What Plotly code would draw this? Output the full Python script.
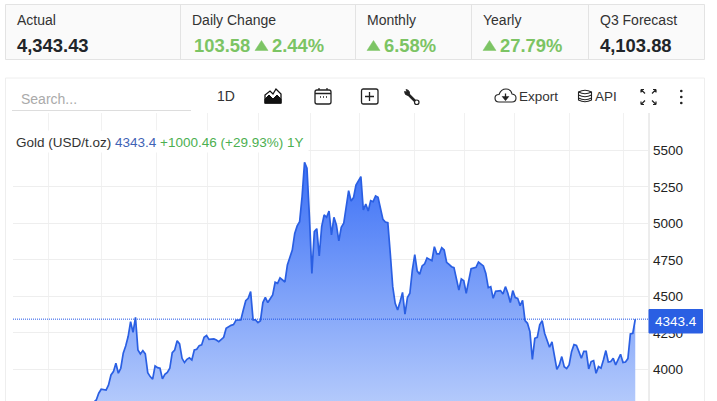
import plotly.graph_objects as go

# trading session number and gold close
sessions = [0, 7, 14, 20, 27, 31,
            34, 35, 36, 38, 39, 40, 41, 42, 43, 44, 45, 46, 47, 48, 49, 50,
            51, 52, 53, 54, 55, 56, 57, 58, 59, 60, 61, 62, 63, 64, 65, 66,
            67, 68, 69, 70, 71, 72, 73, 74, 75, 76, 77, 78, 79, 80, 82, 83,
            84, 86, 87, 89, 90, 91, 93, 94, 95, 96, 97, 98, 99, 100, 101, 102,
            103, 104, 105, 106, 107, 108, 109, 110, 111, 112, 114, 115, 116, 117, 118, 119,
            120, 121, 122, 123, 124, 125, 126, 127, 128, 129, 130, 131, 132, 133, 134, 135,
            136, 137, 138, 139, 140, 142, 143, 144, 145, 146, 147, 148, 149, 151, 152, 153,
            154, 155, 156, 157, 158, 159, 160, 161, 162, 163, 164, 165, 166, 167, 168, 169,
            170, 171, 172, 173, 174, 175, 176, 177, 178, 179, 180, 181, 182, 183, 184, 185,
            186, 187, 189, 190, 192, 193, 194, 195, 196, 197, 199, 200, 201, 202, 203, 204,
            205, 206, 207, 208, 209, 210, 211, 212, 213, 214, 215, 216, 217, 218, 219, 220,
            221, 222, 223, 224, 225, 226, 227, 228, 229, 230, 231, 232, 233, 234, 235, 236,
            237, 238, 239, 240, 241, 242, 243, 244, 245, 246, 248, 249, 250, 251, 252, 253, 254]
closes = [3343, 3390, 3476, 3640, 3680, 3740,
          3790, 3836, 3863, 3858, 3893, 3961, 3984, 4041, 3973, 4007, 4110, 4160, 4224, 4326, 4253, 4356,
          4132, 4105, 4128, 4105, 3977, 3950, 3932, 4023, 4011, 4007, 3934, 3966, 3979, 4007, 4114, 4132,
          4196, 4174, 4075, 4046, 4068, 4078, 4064, 4132, 4137, 4162, 4167, 4219, 4231, 4205, 4208, 4201,
          4189, 4219, 4281, 4301, 4306, 4336, 4338, 4406, 4470, 4486, 4532, 4338, 4338, 4320, 4333, 4457,
          4493, 4457, 4479, 4509, 4596, 4589, 4626, 4612, 4598, 4715, 4817, 4931, 4982, 5011, 5183, 5418,
          5377, 5046, 4657, 4943, 4963, 4776, 4977, 5057, 5041, 5084, 4920, 5041, 4989, 4879, 4973, 5000,
          5126, 5224, 5153, 5176, 5262, 5320, 5091, 5132, 5084, 5155, 5148, 5187, 5178, 5027, 5009, 5004,
          4794, 4566, 4452, 4406, 4463, 4527, 4377, 4491, 4521, 4680, 4785, 4673, 4651, 4708, 4721, 4763,
          4753, 4744, 4840, 4790, 4790, 4833, 4817, 4733, 4719, 4703, 4696, 4612, 4543, 4619, 4607, 4521,
          4600, 4689, 4699, 4735, 4708, 4657, 4559, 4566, 4486, 4534, 4539, 4516, 4566, 4521, 4457, 4539,
          4491, 4486, 4436, 4473, 4333, 4315, 4258, 4068, 4212, 4219, 4304, 4333, 4247, 4201, 4151, 4187,
          4098, 4000, 4030, 4087, 4018, 4005, 4030, 4121, 4169, 4164, 4121, 4075, 4123, 4123, 4002, 4053,
          4059, 3973, 4018, 4007, 4064, 4128, 4050, 4053, 4075, 4030, 4103, 4046, 4050, 4073, 4242, 4247, 4343.4]
month_starts = [14.3, 36.3, 58.4, 79.2, 100.4, 121.6, 141.6, 163.7, 184.1, 204.9, 227, 249]
price_ticks = [3750, 4000, 4250, 4500, 4750, 5000, 5250, 5500]
last_price = 4343.4

kpi_labels = ["Actual", "Daily Change", "Monthly", "Yearly", "Q3 Forecast"]
kpi_x = [17, 192, 367, 483, 600]
kpi_dividers = [180.5, 355.5, 471.5, 588.5]
dark_values = ["4,343.43", "4,103.88"]
dark_x = [17, 600]
green_values = ["103.58", "2.44%", "6.58%", "27.79%"]
green_x = [194, 272, 384, 500]
triangle_x = [255, 367, 483]

W, H = 717, 430
FONT = "Liberation Sans"
BLUE = "#2a5fe3"
GREEN = "#7cc464"
GRID = "#eeeeee"

fig = go.Figure()

fig.add_trace(go.Scatter(
    x=sessions, y=closes, mode="lines", fill="tozeroy",
    line=dict(color=BLUE, width=1.7),
    fillgradient=dict(type="vertical", start=5418, stop=3600,
                      colorscale=[[0, "#3b70f6"], [1, "#c0d3fc"]]),
    hoverinfo="skip", showlegend=False))
# blank trace so the pixel axes used for the page furniture exist
fig.add_trace(go.Scatter(x=[None], y=[None], xaxis="x2", yaxis="y2",
                         hoverinfo="skip", showlegend=False))


def note(x, y, text, size=14, color="#333333", anchor="left", **kw):
    # annotations carry 2px of padding, take it back so x is where the ink starts
    fig.add_annotation(xref="x2", yref="y2", x=x - 2 if anchor == "left" else x, y=y, text=text,
                       showarrow=False, xanchor=anchor, yanchor="middle",
                       font=dict(family=FONT, size=size, color=color), **kw)


def box(x0, y0, x1, y1, line="#e3e3e3", fill=None, width=1):
    fig.add_shape(type="rect", xref="x2", yref="y2", x0=x0, y0=y0, x1=x1, y1=y1,
                  line=dict(color=line, width=width), fillcolor=fill, layer="above")


def icon(path, line="#222222", fill=None, width=1.3):
    fig.add_shape(type="path", xref="x2", yref="y2", path=path, layer="above",
                  line=dict(color=line, width=width), fillcolor=fill)


# KPI strip
box(5.5, 4.5, 704.5, 59.5, fill="#fafafa")
for d in kpi_dividers:
    box(d, 4.5, d, 59.5)
for label, x in zip(kpi_labels, kpi_x):
    note(x, 20, label, size=14, color="#333333")
for value, x in zip(dark_values, dark_x):
    note(x, 45, "<b>%s</b>" % value, size=18.4, color="#212529")
for value, x in zip(green_values, green_x):
    note(x, 45, "<b>%s</b>" % value, size=18.4, color=GREEN)
for x in triangle_x:
    icon("M%s,50.5 L%s,40.5 L%s,50.5 Z" % (x, x + 6.5, x + 13), line=GREEN, fill=GREEN, width=0.5)

# chart card and toolbar
box(5.5, 78, 704.5, 440, line="#eeeeee")
box(12, 110.5, 191, 110.5, line="#dddddd")
note(21, 99, "Search...", size=14, color="#aaaaaa")
note(217, 96, "1D", size=14)
note(519, 96, "Export", size=13.5)
note(595, 96, "API", size=13.5)

# mountain
icon("M265,103 L265,95 L270,91 L273,94 L276,89 L281,94 L281,103 Z", line="#111111", fill="#ffffff")
icon("M265,103 L265,99 L269,95 L273,99 L277,95 L281,99 L281,103 Z", line="#111111", fill="#111111", width=1)
# calendar
icon("M317,90 L329,90 Q331,90 331,92 L331,102 Q331,104 329,104 L317,104 Q315,104 315,102 L315,92 Q315,90 317,90 Z")
icon("M315,93.5 L331,93.5 M319,88 L319,90 M327,88 L327,90 M320,97 L321,97 M323,97 L324,97 M326,97 L327,97")
# plus box
icon("M363,89 L376,89 Q378,89 378,91 L378,102 Q378,104 376,104 L363,104 Q361.5,104 361.5,102 L361.5,91 Q361.5,89 363,89 Z")
icon("M365,96.5 L374,96.5 M369.5,92 L369.5,101")
# wrench
icon("M407.5,93.5 L415,101", width=2.6)
icon("M404.5,91.5 Q404.5,95.5 408.5,95.5 Q410,94 409.5,92 Q408.5,89.5 406,89.5 L407,92 Z", fill="#222222", width=0.8)
fig.add_shape(type="circle", xref="x2", yref="y2", x0=414.5, y0=100, x1=419, y1=104.5,
              line=dict(color="#222222", width=1.2), fillcolor="#ffffff", layer="above")
# cloud
icon("M499,102 Q495,102 495,98 Q495,94.5 499,94.5 Q501,89 506,89 Q511,89 512,94 Q516,94.5 516,98 Q516,102 512,102 Z", fill="#ffffff", width=1.1)
icon("M505.5,93.5 L505.5,97 M503,97 L508,97 L505.5,100 Z", fill="#222222", width=1.3)
# database
icon("M578.5,92 Q585,88.5 591.5,92 L591.5,100 Q585,103.5 578.5,100 Z", fill="#ffffff", width=1.1)
icon("M578.5,92 Q585,95.5 591.5,92 M578.5,95 Q585,98.5 591.5,95 M578.5,98 Q585,101.5 591.5,98", width=1.1)
# expand arrows
icon("M641,89.5 L644,89.5 M641,89.5 L641,92.5 M641,89.5 L645,93.5", width=1.2)
icon("M656,89.5 L653,89.5 M656,89.5 L656,92.5 M656,89.5 L652,93.5", width=1.2)
icon("M641,104.5 L644,104.5 M641,104.5 L641,101.5 M641,104.5 L645,100.5", width=1.2)
icon("M656,104.5 L653,104.5 M656,104.5 L656,101.5 M656,104.5 L652,100.5", width=1.2)
# menu dots
for dot_y in [91, 97, 103]:
    fig.add_shape(type="circle", xref="x2", yref="y2", x0=680, y0=dot_y - 1.2, x1=682.6, y1=dot_y + 1.2,
                  line=dict(width=0), fillcolor="#222222", layer="above")

# last price line, label and legend
fig.add_shape(type="line", xref="x2", yref="y", x0=13, x1=649, y0=last_price, y1=last_price,
              line=dict(color="#1f55e8", width=1, dash="1px,1px"), layer="above")
box(649, 113, 649, 440, line="#e6e6e6")
box(649, 309.5, 702.5, 333, line=BLUE, fill=BLUE)
note(676, 321.5, str(last_price), size=13.5, color="#ffffff", anchor="center")
box(12, 131, 308, 152, line="#ffffff", fill="#ffffff")
note(15.5, 142,
     "Gold (USD/t.oz) <span style='color:#3f63b5'>4343.4</span>"
     " <span style='color:#4caf50'>+1000.46 (+29.93%) 1Y</span>",
     size=13.5, color="#333333")

fig.update_layout(
    width=W, height=H, margin=dict(l=0, r=0, t=0, b=0),
    paper_bgcolor="#ffffff", plot_bgcolor="rgba(0,0,0,0)", showlegend=False,
    font=dict(family=FONT, size=13, color="#222222"),
    xaxis=dict(domain=[13 / W, 648 / W], range=[0, 259.2], tickvals=month_starts,
               showticklabels=False, ticks="", showgrid=True, gridcolor="#f1f1f1", gridwidth=1,
               zeroline=False, showline=False, fixedrange=True),
    yaxis=dict(domain=[1 - 425 / H, 1 - 113 / H], range=[3618.3, 5755.6], side="right",
               tickvals=price_ticks, ticks="", ticklabelstandoff=4, showgrid=True,
               gridcolor=GRID, gridwidth=1, zeroline=False, showline=False, fixedrange=True,
               tickfont=dict(family=FONT, size=13.5, color="#222222")),
    xaxis2=dict(domain=[0, 1], range=[0, W], visible=False, anchor="y2", fixedrange=True),
    yaxis2=dict(domain=[0, 1], range=[H, 0], visible=False, anchor="x2", fixedrange=True),
)

fig.write_html("out.html", config={"displayModeBar": False},
               post_script="document.body.style.margin='0';document.documentElement.style.overflow='hidden';")
